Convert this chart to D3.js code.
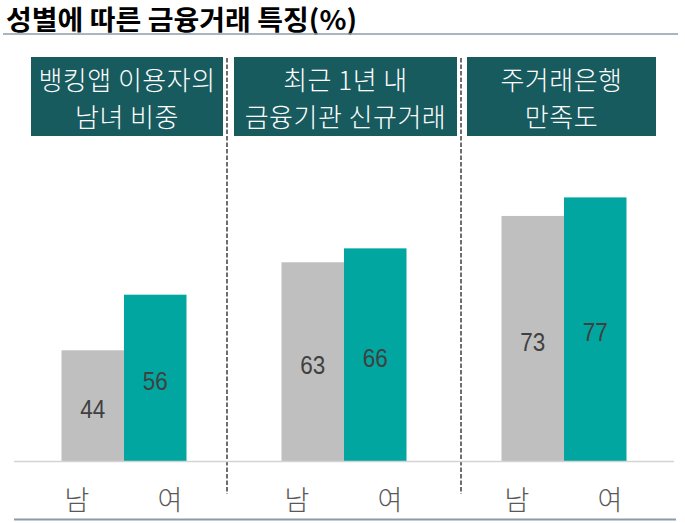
<!DOCTYPE html>
<html>
<head>
<meta charset="utf-8">
<script src="https://cdn.jsdelivr.net/npm/d3@7"></script>
<style>
  body { margin: 0; background: #fff; }
  svg { display: block; }
</style>
</head>
<body>
<svg id="chart"></svg>
<script>
// data
var categories = ["뱅킹앱 이용자의\n남녀 비중", "최근 1년 내\n금융기관 신규거래", "주거래은행\n만족도"];
var genders = ["남", "여"];
var male = [44, 63, 73];
var female = [56, 66, 77];

var width = 685, height = 523;
var baseY = 461.5;

var svg = d3.select("#chart")
  .attr("width", width)
  .attr("height", height);

// group scale and the bars inside each group
var x0 = d3.scaleBand().domain(d3.range(categories.length)).range([14, 674]).padding(0);
var bw = x0.bandwidth();
var x1 = d3.scaleBand().domain(genders).range([bw / 2 - 62.5, bw / 2 + 62.5]).padding(0);
var xl = d3.scalePoint().domain(genders).range([bw / 2 - 47, bw / 2 + 46]);

// axis does not start at zero in the original
var y = d3.scaleLinear().domain([20, 80]).range([baseY, baseY - 278]);

var rows = categories.map(function (c, i) {
  return { i: i, cat: c, vals: [{ g: "남", v: male[i] }, { g: "여", v: female[i] }] };
});

var colors = { "남": "#bfbfbf", "여": "#00a69f" };

// title
svg.append("text")
  .attr("x", 6)
  .attr("y", 18)
  .attr("dominant-baseline", "central")
  .attr("textLength", 351)
  .attr("lengthAdjust", "spacingAndGlyphs")
  .style("font-family", "'Noto Sans CJK KR', sans-serif")
  .style("font-weight", 700)
  .style("font-size", "27px")
  .style("fill", "#000")
  .text("성별에 따른 금융거래 특징(%)");

svg.append("line")
  .attr("x1", 3).attr("x2", 678)
  .attr("y1", 34).attr("y2", 34)
  .style("stroke", "#8f9ca8")
  .style("stroke-width", 1.5);

// header boxes
var boxes = [[31, 223], [234, 457], [467, 656]];
var head = svg.selectAll(".head")
  .data(rows)
  .enter()
  .append("g")
  .attr("class", "head");

head.append("rect")
  .attr("x", function (d) { return boxes[d.i][0]; })
  .attr("width", function (d) { return boxes[d.i][1] - boxes[d.i][0]; })
  .attr("y", 57)
  .attr("height", 79)
  .style("fill", "#185b5f");

head.selectAll("text")
  .data(function (d) {
    return d.cat.split("\n").map(function (t, k) {
      return { t: t, k: k, cx: (boxes[d.i][0] + boxes[d.i][1]) / 2 };
    });
  })
  .enter()
  .append("text")
  .attr("x", function (d) { return d.cx; })
  .attr("y", function (d) { return 78.5 + d.k * 36.5; })
  .attr("text-anchor", "middle")
  .attr("dominant-baseline", "central")
  .style("font-family", "'Noto Sans CJK KR', sans-serif")
  .style("font-weight", 300)
  .style("font-size", "26px")
  .style("letter-spacing", "0.5px")
  .style("fill", "#fff")
  .text(function (d) { return d.t; });

// dashed dividers
[227, 461].forEach(function (dx) {
  svg.append("line")
    .attr("x1", dx).attr("x2", dx)
    .attr("y1", 58).attr("y2", 494)
    .style("stroke", "#4a4a4a")
    .style("stroke-width", 1.6)
    .style("stroke-dasharray", "4.5,2");
});

// bars
var grp = svg.selectAll(".grp")
  .data(rows)
  .enter()
  .append("g")
  .attr("class", "grp")
  .attr("transform", function (d) { return "translate(" + x0(d.i) + ",0)"; });

grp.selectAll("rect")
  .data(function (d) { return d.vals; })
  .enter()
  .append("rect")
  .attr("x", function (d) { return x1(d.g); })
  .attr("width", x1.bandwidth())
  .attr("y", function (d) { return y(d.v); })
  .attr("height", function (d) { return baseY - y(d.v); })
  .style("fill", function (d) { return colors[d.g]; });

grp.selectAll(".val")
  .data(function (d) { return d.vals; })
  .enter()
  .append("text")
  .attr("class", "val")
  .attr("x", function (d) { return x1(d.g) + x1.bandwidth() / 2; })
  .attr("y", function (d) { return (y(d.v) + baseY) / 2 + 3; })
  .attr("text-anchor", "middle")
  .attr("dominant-baseline", "central")
  .attr("textLength", 25)
  .attr("lengthAdjust", "spacingAndGlyphs")
  .style("font-family", "'Liberation Sans', Arial, sans-serif")
  .style("font-size", "25px")
  .style("fill", "#404040")
  .text(function (d) { return d.v; });

// baseline
svg.append("line")
  .attr("x1", 14).attr("x2", 674)
  .attr("y1", baseY).attr("y2", baseY)
  .style("stroke", "#d4d4d4")
  .style("stroke-width", 1.5);

// gender labels
grp.selectAll(".lab")
  .data(function (d) { return d.vals; })
  .enter()
  .append("text")
  .attr("class", "lab")
  .attr("x", function (d) { return xl(d.g); })
  .attr("y", 498)
  .attr("text-anchor", "middle")
  .attr("dominant-baseline", "central")
  .style("font-family", "'Noto Sans CJK KR', sans-serif")
  .style("font-weight", 300)
  .style("font-size", "27px")
  .style("fill", "#595959")
  .text(function (d) { return d.g; });

// bottom rule
svg.append("line")
  .attr("x1", 14).attr("x2", 676)
  .attr("y1", 519.5).attr("y2", 519.5)
  .style("stroke", "#8b9bab")
  .style("stroke-width", 2);
</script>
</body>
</html>
